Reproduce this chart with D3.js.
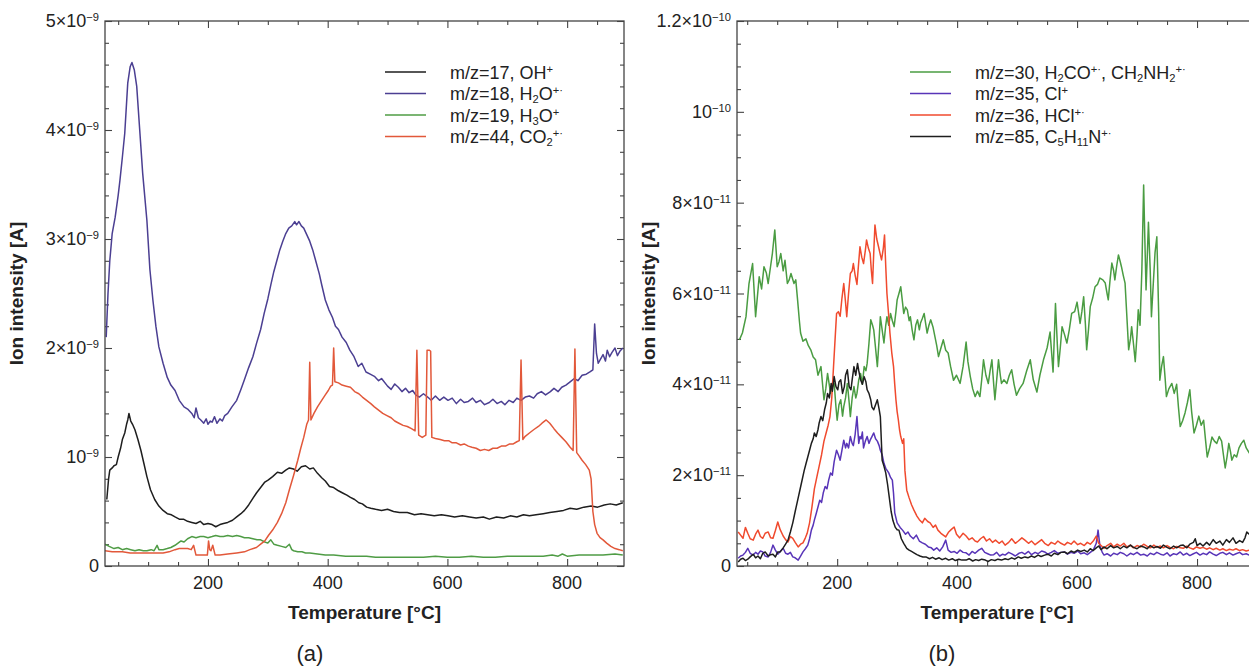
<!DOCTYPE html>
<html>
<head>
<meta charset="utf-8">
<script src="https://cdn.jsdelivr.net/npm/d3@7"></script>
<style>
  body { margin: 0; background: #fff; }
  svg { display: block; font-family: "Liberation Sans", Arial, sans-serif; }
</style>
</head>
<body>
<div id="chart"></div>
<script>
// Ion intensity vs temperature, two panels (a) and (b)
// panel (a) values in units of 1e-9 A, panel (b) in units of 1e-11 A

const tempTicks = [200, 400, 600, 800];
const yTicksA = [0, 1, 2, 3, 4, 5];
const yLabelsA = ["0", "10^−9", "2×10^−9", "3×10^−9", "4×10^−9", "5×10^−9"];
const yTicksB = [0, 2, 4, 6, 8, 10, 12];
const yLabelsB = ["0", "2×10^−11", "4×10^−11", "6×10^−11", "8×10^−11", "10^−10", "1.2×10^−10"];

// m/z=17, OH+
const ohA = [[31,0.61],[34,0.80],[36,0.88],[40,0.90],[43,0.92],[47,0.93],[50,1.00],[54,1.08],[57,1.16],[61,1.22],[64,1.30],[66,1.34],[68,1.40],[71,1.33],[74,1.30],[78,1.25],[83,1.16],[88,1.06],[93,0.94],[98,0.82],[104,0.70],[111,0.61],[118,0.55],[125,0.51],[132,0.48],[139,0.47],[145,0.45],[152,0.43],[159,0.43],[166,0.41],[173,0.40],[180,0.39],[187,0.41],[193,0.38],[200,0.39],[207,0.38],[213,0.36],[220,0.38],[226,0.39],[233,0.40],[241,0.42],[248,0.45],[255,0.48],[261,0.51],[268,0.56],[275,0.62],[281,0.67],[288,0.72],[295,0.77],[301,0.79],[308,0.82],[316,0.86],[323,0.85],[330,0.88],[336,0.90],[343,0.89],[349,0.87],[356,0.91],[363,0.92],[370,0.89],[376,0.90],[383,0.85],[390,0.81],[396,0.78],[403,0.73],[410,0.72],[418,0.69],[425,0.67],[432,0.65],[438,0.63],[445,0.61],[452,0.58],[458,0.57],[465,0.54],[472,0.53],[480,0.52],[490,0.51],[500,0.52],[510,0.50],[520,0.49],[533,0.49],[545,0.47],[556,0.48],[567,0.47],[578,0.46],[590,0.47],[601,0.46],[612,0.45],[625,0.46],[637,0.45],[648,0.44],[660,0.45],[670,0.43],[682,0.45],[694,0.44],[705,0.46],[716,0.45],[727,0.47],[737,0.46],[748,0.47],[760,0.48],[771,0.49],[783,0.50],[794,0.51],[805,0.53],[816,0.52],[828,0.54],[840,0.55],[851,0.54],[862,0.56],[872,0.57],[882,0.56],[893,0.58]];

// m/z=18, H2O+
const h2oA = [[30,2.10],[33,2.50],[36,2.80],[40,3.05],[45,3.20],[50,3.40],[53,3.54],[57,3.75],[61,3.97],[66,4.43],[70,4.58],[73,4.62],[77,4.55],[81,4.40],[86,4.00],[91,3.60],[98,3.17],[103,2.72],[108,2.44],[113,2.20],[118,2.01],[125,1.86],[132,1.73],[138,1.66],[145,1.61],[152,1.52],[160,1.46],[166,1.44],[173,1.40],[177,1.36],[180,1.45],[184,1.36],[188,1.34],[193,1.31],[197,1.35],[200,1.30],[204,1.33],[207,1.32],[211,1.37],[215,1.31],[220,1.35],[224,1.33],[228,1.38],[233,1.40],[240,1.46],[248,1.52],[255,1.62],[261,1.71],[268,1.82],[275,1.92],[281,2.04],[288,2.17],[294,2.32],[300,2.45],[305,2.58],[310,2.70],[315,2.80],[320,2.90],[325,2.98],[330,3.05],[335,3.10],[340,3.12],[345,3.16],[348,3.13],[352,3.16],[356,3.12],[360,3.10],[365,3.04],[370,2.98],[375,2.90],[380,2.80],[386,2.68],[390,2.58],[396,2.44],[402,2.35],[408,2.28],[413,2.20],[418,2.17],[424,2.10],[431,2.05],[437,1.98],[444,1.92],[451,1.83],[457,1.86],[464,1.78],[471,1.76],[478,1.74],[485,1.70],[490,1.72],[500,1.65],[506,1.62],[512,1.67],[518,1.64],[524,1.60],[530,1.63],[536,1.59],[542,1.61],[547,1.57],[553,1.55],[560,1.58],[567,1.55],[573,1.52],[580,1.56],[587,1.52],[594,1.55],[601,1.52],[608,1.54],[615,1.49],[622,1.53],[628,1.50],[635,1.51],[642,1.54],[648,1.50],[655,1.52],[662,1.48],[670,1.50],[676,1.53],[683,1.49],[690,1.51],[696,1.48],[703,1.52],[710,1.50],[716,1.54],[723,1.52],[730,1.55],[737,1.56],[744,1.54],[750,1.58],[757,1.60],[764,1.57],[772,1.60],[778,1.63],[785,1.60],[791,1.64],[798,1.66],[805,1.69],[812,1.72],[818,1.70],[825,1.75],[832,1.76],[838,1.78],[843,1.80],[846,2.22],[849,1.95],[852,1.86],[856,1.90],[860,1.94],[864,1.88],[867,1.98],[871,1.92],[875,1.96],[880,2.00],[884,1.93],[888,1.97],[893,2.00]];

// m/z=19, H3O+
const h3oA = [[28,0.20],[35,0.18],[43,0.16],[50,0.17],[57,0.15],[64,0.16],[71,0.15],[78,0.14],[85,0.15],[92,0.14],[98,0.14],[105,0.15],[110,0.14],[115,0.19],[118,0.15],[125,0.15],[132,0.16],[138,0.17],[145,0.19],[150,0.21],[155,0.23],[160,0.22],[166,0.25],[173,0.27],[180,0.26],[187,0.27],[193,0.27],[200,0.26],[207,0.27],[213,0.28],[220,0.27],[226,0.27],[233,0.28],[241,0.27],[248,0.28],[255,0.27],[261,0.26],[268,0.26],[275,0.25],[282,0.24],[288,0.24],[295,0.22],[300,0.21],[305,0.24],[310,0.20],[316,0.19],[323,0.18],[330,0.17],[336,0.20],[340,0.15],[343,0.14],[350,0.13],[357,0.13],[363,0.12],[370,0.12],[383,0.11],[396,0.10],[410,0.10],[430,0.09],[450,0.09],[465,0.09],[480,0.08],[500,0.08],[520,0.08],[540,0.08],[560,0.08],[580,0.09],[600,0.08],[620,0.08],[640,0.09],[660,0.08],[680,0.08],[700,0.09],[720,0.09],[740,0.09],[760,0.09],[775,0.10],[785,0.09],[792,0.11],[800,0.09],[820,0.10],[840,0.10],[860,0.10],[880,0.11],[893,0.10]];

// m/z=44, CO2+
const co2A = [[28,0.14],[40,0.13],[50,0.13],[57,0.13],[70,0.12],[85,0.12],[100,0.12],[115,0.12],[125,0.12],[135,0.13],[145,0.15],[152,0.16],[160,0.16],[166,0.16],[172,0.15],[176,0.19],[180,0.10],[188,0.10],[195,0.10],[199,0.10],[201,0.23],[203,0.15],[205,0.14],[208,0.19],[212,0.10],[220,0.10],[233,0.11],[248,0.12],[261,0.13],[270,0.15],[281,0.17],[288,0.20],[295,0.23],[301,0.28],[308,0.33],[316,0.40],[323,0.48],[330,0.58],[336,0.70],[343,0.83],[350,0.97],[355,1.08],[360,1.18],[365,1.30],[368,1.34],[370,1.87],[372,1.34],[377,1.40],[383,1.46],[390,1.52],[396,1.57],[401,1.61],[405,1.65],[408,1.66],[410,2.00],[412,1.69],[418,1.68],[424,1.66],[431,1.65],[438,1.64],[445,1.60],[452,1.58],[458,1.55],[465,1.52],[472,1.49],[478,1.46],[485,1.43],[492,1.40],[499,1.38],[506,1.36],[512,1.33],[519,1.31],[526,1.29],[533,1.28],[540,1.26],[546,1.24],[549,1.98],[552,1.20],[558,1.18],[564,1.20],[566,1.98],[570,1.98],[572,1.97],[574,1.18],[580,1.17],[588,1.16],[595,1.15],[602,1.15],[608,1.13],[615,1.13],[622,1.11],[628,1.12],[635,1.10],[641,1.09],[648,1.08],[655,1.06],[662,1.07],[669,1.06],[676,1.08],[683,1.08],[690,1.10],[697,1.10],[704,1.12],[710,1.12],[716,1.14],[720,1.15],[723,1.89],[726,1.16],[730,1.19],[737,1.22],[744,1.25],[752,1.28],[758,1.31],[765,1.34],[771,1.31],[778,1.26],[784,1.22],[791,1.18],[798,1.14],[805,1.09],[810,1.06],[813,1.99],[816,1.04],[820,1.01],[825,0.97],[831,0.93],[837,0.88],[840,0.80],[843,0.50],[846,0.38],[850,0.30],[855,0.26],[860,0.24],[866,0.21],[873,0.18],[880,0.16],[887,0.15],[893,0.14]];

// m/z=30, H2CO+, CH2NH2+
const ch2nh2B = [[37,4.98],[42,5.13],[48,5.49],[53,6.22],[59,6.66],[64,5.49],[70,6.37],[74,6.10],[78,6.59],[82,6.45],[85,6.22],[89,6.60],[92,6.88],[96,7.40],[100,6.59],[103,6.70],[106,6.88],[110,6.50],[113,6.73],[117,6.22],[120,6.30],[123,6.44],[128,6.22],[131,6.30],[134,5.86],[137,5.40],[139,5.13],[143,4.95],[148,5.00],[152,4.85],[156,4.76],[160,4.60],[164,4.54],[168,4.20],[173,4.39],[178,3.66],[181,3.90],[184,4.24],[189,3.80],[192,3.95],[195,4.02],[198,3.50],[200,3.21],[203,3.55],[206,3.66],[209,3.30],[211,3.51],[214,3.70],[217,4.02],[220,3.60],[222,3.29],[225,3.70],[228,3.95],[231,3.70],[233,3.80],[236,4.10],[239,4.24],[242,4.00],[245,4.39],[248,4.30],[250,4.46],[253,4.90],[256,5.42],[259,5.30],[261,5.20],[264,4.80],[267,4.39],[270,5.00],[272,5.49],[275,5.20],[278,4.91],[281,5.30],[283,5.49],[286,5.30],[289,5.56],[292,5.40],[295,5.27],[298,5.60],[300,5.86],[303,6.00],[306,6.15],[309,5.80],[311,5.56],[314,5.70],[317,5.64],[320,5.40],[322,5.49],[325,5.20],[328,4.98],[331,5.30],[334,5.42],[337,5.20],[339,5.35],[342,5.45],[345,5.56],[348,5.30],[350,5.13],[353,5.30],[356,5.42],[360,5.25],[363,5.05],[366,4.85],[369,4.61],[373,4.80],[377,4.98],[381,4.75],[385,4.69],[389,4.40],[394,4.09],[399,4.20],[405,4.02],[410,4.40],[415,4.93],[418,4.50],[422,4.17],[426,3.90],[430,3.73],[434,3.85],[438,3.73],[441,4.10],[444,4.54],[448,4.20],[452,4.02],[455,4.30],[458,4.54],[461,4.00],[463,3.66],[466,4.10],[469,4.54],[472,4.20],[474,4.02],[478,4.10],[483,4.02],[487,4.20],[491,4.32],[495,4.00],[499,3.76],[504,3.90],[510,4.02],[516,4.30],[522,4.54],[527,4.10],[533,3.83],[538,4.20],[544,4.54],[550,4.80],[555,5.15],[560,4.27],[564,5.78],[567,4.90],[569,4.39],[572,4.80],[575,5.27],[579,5.10],[583,4.91],[587,5.20],[591,5.56],[596,5.60],[600,5.81],[605,5.34],[608,5.60],[611,5.93],[614,5.30],[616,4.76],[619,5.20],[622,5.71],[626,5.90],[630,6.15],[634,6.20],[638,6.34],[643,6.30],[647,6.23],[650,6.00],[652,5.86],[655,6.30],[658,6.67],[661,6.50],[663,6.30],[666,6.60],[669,6.85],[672,6.70],[674,6.59],[677,6.40],[680,6.23],[683,5.50],[686,4.76],[689,5.00],[691,5.27],[694,4.90],[697,4.50],[700,5.10],[702,5.64],[705,5.30],[708,6.50],[711,8.39],[713,7.20],[715,6.08],[717,6.80],[719,7.57],[722,6.50],[724,5.49],[727,6.20],[730,6.90],[733,7.25],[736,5.60],[738,4.09],[741,4.40],[744,4.61],[747,4.10],[749,3.73],[753,3.90],[758,4.02],[762,3.80],[766,4.00],[769,3.50],[772,3.07],[776,3.20],[780,3.37],[784,3.60],[788,3.88],[791,3.40],[795,2.93],[799,3.10],[803,3.30],[807,3.10],[811,3.21],[814,2.80],[817,2.40],[821,2.60],[825,2.84],[829,2.75],[833,2.70],[837,2.85],[841,2.75],[844,2.45],[847,2.16],[850,2.40],[853,2.70],[856,2.50],[858,2.33],[862,2.45],[866,2.40],[870,2.60],[874,2.70],[878,2.77],[882,2.60],[887,2.49],[892,2.45]];

// m/z=35, Cl+
const clB = [[35,0.17],[39,0.22],[43,0.24],[47,0.30],[51,0.39],[55,0.28],[60,0.24],[64,0.30],[68,0.26],[72,0.33],[76,0.31],[80,0.22],[85,0.20],[89,0.30],[93,0.46],[97,0.35],[101,0.26],[105,0.32],[110,0.39],[114,0.28],[118,0.26],[122,0.30],[126,0.20],[130,0.18],[135,0.13],[139,0.22],[143,0.31],[147,0.38],[151,0.46],[154,0.60],[157,0.79],[160,0.90],[162,1.01],[165,1.15],[168,1.30],[171,1.45],[174,1.40],[177,1.62],[180,1.75],[183,1.70],[186,1.90],[189,2.05],[192,2.00],[195,2.30],[199,2.55],[202,2.45],[205,2.33],[208,2.55],[211,2.77],[214,2.60],[216,2.70],[219,2.60],[222,2.85],[225,2.70],[227,2.65],[230,2.90],[233,3.29],[236,2.70],[238,2.85],[240,2.80],[242,2.95],[244,2.60],[247,2.75],[250,2.85],[253,2.70],[255,2.77],[258,2.85],[261,2.93],[264,2.80],[267,2.75],[270,2.65],[272,2.55],[275,2.45],[278,2.26],[281,2.15],[283,2.11],[286,2.05],[289,1.95],[292,1.89],[294,1.60],[296,1.17],[300,0.95],[305,0.85],[309,0.79],[314,0.70],[318,0.75],[322,0.66],[327,0.60],[332,0.68],[337,0.55],[342,0.51],[347,0.48],[352,0.42],[357,0.40],[361,0.35],[366,0.40],[371,0.33],[376,0.42],[381,0.57],[385,0.35],[390,0.30],[395,0.32],[400,0.28],[405,0.35],[410,0.30],[415,0.29],[420,0.24],[425,0.32],[430,0.28],[436,0.35],[441,0.39],[446,0.30],[451,0.27],[456,0.24],[461,0.25],[466,0.30],[471,0.22],[476,0.26],[480,0.24],[486,0.30],[492,0.26],[497,0.22],[503,0.28],[508,0.30],[513,0.26],[519,0.32],[524,0.25],[530,0.30],[535,0.27],[541,0.33],[546,0.31],[551,0.26],[557,0.30],[562,0.34],[568,0.28],[573,0.30],[579,0.31],[584,0.26],[590,0.30],[595,0.28],[601,0.33],[606,0.27],[612,0.29],[617,0.25],[622,0.30],[627,0.35],[632,0.50],[635,0.79],[638,0.45],[642,0.30],[645,0.24],[650,0.27],[656,0.22],[661,0.28],[667,0.25],[672,0.30],[678,0.27],[683,0.22],[689,0.28],[694,0.25],[700,0.30],[706,0.24],[711,0.26],[717,0.22],[722,0.28],[728,0.25],[733,0.30],[739,0.26],[744,0.24],[750,0.29],[755,0.22],[761,0.27],[766,0.25],[772,0.31],[777,0.24],[783,0.28],[788,0.23],[794,0.27],[799,0.30],[805,0.24],[810,0.28],[816,0.25],[821,0.31],[827,0.26],[832,0.23],[838,0.28],[843,0.30],[849,0.25],[854,0.29],[860,0.24],[865,0.27],[871,0.30],[876,0.25],[882,0.27],[887,0.24],[892,0.26]];

// m/z=36, HCl+
const hclB = [[35,0.75],[39,0.68],[43,0.61],[47,0.85],[51,0.72],[55,0.60],[60,0.57],[64,0.70],[68,0.79],[72,0.65],[76,0.61],[80,0.72],[85,0.75],[89,0.62],[93,0.61],[97,0.78],[101,0.97],[105,0.80],[110,0.66],[114,0.58],[118,0.53],[122,0.65],[126,0.61],[130,0.52],[135,0.42],[139,0.48],[143,0.51],[147,0.62],[150,0.72],[154,0.95],[158,1.30],[162,1.70],[166,1.95],[170,2.20],[174,2.45],[178,2.75],[182,2.95],[185,3.10],[188,3.29],[191,3.70],[194,4.40],[197,5.10],[199,5.56],[202,5.60],[205,5.50],[208,5.90],[211,6.22],[214,5.80],[216,5.49],[219,6.00],[222,6.44],[225,6.50],[227,6.66],[230,6.40],[233,6.20],[236,6.70],[238,7.03],[241,6.80],[244,6.66],[247,6.95],[249,7.18],[252,7.00],[255,6.88],[257,6.50],[259,6.22],[261,6.90],[263,7.51],[266,7.20],[269,7.03],[272,6.85],[274,6.74],[277,7.00],[279,7.29],[281,6.60],[283,6.00],[286,5.50],[288,5.13],[291,4.70],[294,4.39],[296,4.00],[298,3.66],[300,3.40],[302,3.22],[304,3.00],[306,2.85],[309,2.70],[311,2.80],[313,2.10],[316,1.67],[320,1.50],[324,1.35],[328,1.23],[333,1.10],[337,1.02],[342,0.95],[346,1.05],[351,0.98],[355,0.95],[360,0.85],[364,0.90],[368,0.79],[373,0.72],[377,0.68],[381,0.64],[386,0.75],[390,0.80],[395,0.86],[399,0.70],[404,0.62],[410,0.72],[415,0.66],[420,0.58],[425,0.62],[430,0.55],[434,0.53],[439,0.60],[444,0.65],[449,0.55],[454,0.60],[459,0.52],[464,0.57],[470,0.50],[475,0.55],[480,0.46],[486,0.52],[491,0.60],[497,0.50],[502,0.55],[508,0.62],[513,0.57],[519,0.50],[524,0.55],[530,0.47],[535,0.52],[541,0.58],[546,0.50],[552,0.45],[557,0.52],[563,0.48],[568,0.55],[573,0.50],[579,0.46],[584,0.52],[590,0.48],[595,0.55],[601,0.47],[606,0.50],[612,0.45],[617,0.52],[622,0.48],[627,0.55],[632,0.66],[636,0.50],[640,0.45],[645,0.39],[650,0.45],[656,0.50],[661,0.42],[667,0.48],[672,0.44],[678,0.50],[683,0.42],[689,0.46],[694,0.40],[700,0.45],[706,0.42],[711,0.48],[717,0.43],[722,0.40],[728,0.46],[733,0.41],[739,0.44],[744,0.40],[750,0.45],[755,0.41],[761,0.38],[766,0.43],[772,0.40],[777,0.39],[783,0.44],[788,0.40],[794,0.37],[799,0.42],[805,0.39],[810,0.41],[816,0.37],[821,0.40],[827,0.36],[832,0.39],[838,0.35],[843,0.38],[849,0.34],[854,0.37],[860,0.35],[865,0.38],[871,0.34],[876,0.36],[882,0.33],[887,0.35],[892,0.34]];

// m/z=85, C5H11N+
const c5h11nB = [[35,0.09],[39,0.15],[43,0.17],[47,0.12],[51,0.15],[55,0.20],[60,0.26],[64,0.18],[68,0.22],[72,0.16],[76,0.28],[80,0.31],[85,0.22],[89,0.25],[93,0.26],[97,0.20],[101,0.31],[105,0.31],[110,0.40],[114,0.48],[118,0.57],[122,0.75],[126,0.95],[130,1.20],[135,1.50],[140,1.80],[145,2.10],[148,2.25],[151,2.40],[154,2.55],[157,2.70],[160,2.80],[162,2.93],[165,2.85],[168,3.00],[170,3.15],[173,3.29],[176,3.20],[179,3.44],[182,3.60],[184,3.80],[187,3.70],[190,4.02],[192,3.85],[195,4.17],[198,3.95],[201,3.88],[203,4.05],[206,4.10],[209,3.80],[212,3.95],[214,4.20],[217,4.32],[220,3.95],[223,3.88],[225,4.10],[228,4.39],[231,4.20],[234,4.46],[236,4.30],[239,4.10],[242,4.00],[245,4.17],[248,4.05],[250,3.88],[253,3.80],[256,3.66],[258,3.50],[261,3.44],[264,3.55],[267,3.66],[270,3.45],[272,3.29],[275,2.33],[278,2.20],[281,2.05],[284,1.80],[287,1.50],[290,1.20],[293,1.00],[297,0.85],[300,0.80],[303,0.79],[307,0.60],[311,0.50],[316,0.39],[320,0.35],[324,0.32],[328,0.29],[333,0.25],[338,0.22],[343,0.20],[348,0.20],[354,0.16],[359,0.19],[364,0.15],[370,0.18],[375,0.14],[381,0.17],[386,0.13],[392,0.16],[397,0.12],[403,0.15],[408,0.13],[415,0.13],[420,0.16],[426,0.11],[431,0.14],[436,0.12],[441,0.15],[447,0.13],[452,0.10],[457,0.14],[463,0.12],[468,0.15],[474,0.13],[480,0.16],[485,0.14],[491,0.18],[496,0.15],[502,0.20],[507,0.17],[513,0.20],[518,0.18],[524,0.22],[529,0.19],[535,0.24],[540,0.21],[546,0.24],[551,0.26],[557,0.22],[562,0.28],[568,0.25],[573,0.30],[579,0.31],[584,0.27],[590,0.33],[595,0.30],[601,0.35],[606,0.32],[612,0.35],[617,0.31],[622,0.38],[627,0.34],[632,0.40],[636,0.44],[640,0.36],[645,0.42],[650,0.38],[656,0.45],[661,0.40],[667,0.43],[672,0.38],[678,0.44],[683,0.40],[689,0.46],[694,0.41],[700,0.38],[706,0.44],[711,0.42],[717,0.38],[722,0.45],[728,0.40],[733,0.43],[739,0.39],[744,0.46],[750,0.41],[755,0.38],[761,0.44],[766,0.40],[772,0.45],[777,0.46],[783,0.40],[788,0.48],[794,0.52],[797,0.60],[800,0.45],[805,0.50],[810,0.44],[816,0.52],[821,0.46],[827,0.58],[832,0.50],[838,0.55],[843,0.46],[849,0.58],[854,0.52],[860,0.62],[865,0.50],[871,0.56],[876,0.52],[880,0.62],[883,0.75],[887,0.70],[892,0.72]];

// legend labels: [text, "" | "sub" | "sup"]
const legendLabelsA = [
  [["m/z=17, OH"], ["+", "sup"]],
  [["m/z=18, H"], ["2", "sub"], ["O"], ["+·", "sup"]],
  [["m/z=19, H"], ["3", "sub"], ["O"], ["+", "sup"]],
  [["m/z=44, CO"], ["2", "sub"], ["+·", "sup"]]
];
const legendLabelsB = [
  [["m/z=30, H"], ["2", "sub"], ["CO"], ["+·", "sup"], [", CH"], ["2", "sub"], ["NH"], ["2", "sub"], ["+·", "sup"]],
  [["m/z=35, Cl"], ["+", "sup"]],
  [["m/z=36, HCl"], ["+·", "sup"]],
  [["m/z=85, C"], ["5", "sub"], ["H"], ["11", "sub"], ["N"], ["+·", "sup"]]
];

const W = 1249, H = 668;
const svg = d3.select("#chart").append("svg").attr("width", W).attr("height", H);

function richText(sel, parts, fs) {
  let off = 0;
  parts.forEach(([t, mode]) => {
    const target = mode === "sup" ? -0.33 * fs : mode === "sub" ? 0.18 * fs : 0;
    const ts = sel.append("tspan").text(t).attr("dy", target - off);
    if (mode) ts.attr("font-size", fs * 0.62);
    off = target;
  });
}

function tickParts(label) {
  const [m, e] = label.split("^");
  return e ? [[m], [e, "sup"]] : [[m]];
}

function drawPanel(cfg) {
  const { id, left, right, top, bottom, xDomain, yDomain, yTicks, yLabels, yMinor, series, legend, legendX, caption } = cfg;
  const x = d3.scaleLinear().domain(xDomain).range([left, right]);
  const y = d3.scaleLinear().domain(yDomain).range([bottom, top]);
  const g = svg.append("g");

  g.append("clipPath").attr("id", "clip-" + id)
    .append("rect").attr("x", left).attr("y", top).attr("width", right - left).attr("height", bottom - top);

  const xMinor = d3.range(50, xDomain[1] + 1, 50).filter(v => v % 200 !== 0);
  const yMin = d3.range(yDomain[0], yDomain[1] + 1e-9, yMinor).filter(v => !yTicks.some(t => Math.abs(t - v) < 1e-6));

  // tick marks on all four sides, pointing inwards
  const tickColor = "#444";
  const axes = [
    [d3.axisBottom(x).tickValues(tempTicks), bottom, "x"],
    [d3.axisBottom(x).tickValues(xMinor), bottom, "xm"],
    [d3.axisTop(x).tickValues(tempTicks), top, "x"],
    [d3.axisTop(x).tickValues(xMinor), top, "xm"],
    [d3.axisLeft(y).tickValues(yTicks), left, "y"],
    [d3.axisLeft(y).tickValues(yMin), left, "ym"],
    [d3.axisRight(y).tickValues(yTicks), right, "y"],
    [d3.axisRight(y).tickValues(yMin), right, "ym"]
  ];
  axes.forEach(([ax, pos, kind]) => {
    const major = kind === "x" || kind === "y";
    ax.tickSize(major ? -7 : -4).tickFormat("");
    const a = g.append("g")
      .attr("transform", kind[0] === "x" ? `translate(0,${pos})` : `translate(${pos},0)`)
      .call(ax);
    a.select(".domain").remove();
    a.selectAll("line").attr("stroke", tickColor).attr("stroke-width", 1.1);
  });

  // series lines
  const line = d3.line().x(d => x(d[0])).y(d => y(d[1]));
  series.forEach(s => {
    g.append("path")
      .datum(s.data)
      .attr("clip-path", `url(#clip-${id})`)
      .attr("fill", "none")
      .attr("stroke", s.color)
      .attr("stroke-width", 1.5)
      .attr("stroke-linejoin", "round")
      .attr("d", line);
  });

  // frame
  g.append("rect")
    .attr("x", left).attr("y", top)
    .attr("width", right - left).attr("height", bottom - top)
    .attr("fill", "none").attr("stroke", "#444").attr("stroke-width", 1.3);

  // x tick labels
  tempTicks.forEach(t => {
    g.append("text")
      .attr("x", x(t)).attr("y", bottom + 23)
      .attr("text-anchor", "middle")
      .attr("font-size", 18).attr("fill", "#222")
      .text(t);
  });

  // y tick labels
  yTicks.forEach((t, i) => {
    const txt = g.append("text")
      .attr("x", left - 6).attr("y", y(t) + 6)
      .attr("text-anchor", "end")
      .attr("font-size", 18).attr("fill", "#222");
    richText(txt, tickParts(yLabels[i]), 18);
  });

  // axis titles
  g.append("text")
    .attr("x", (left + right) / 2).attr("y", 619)
    .attr("text-anchor", "middle")
    .attr("font-size", 19).attr("font-weight", "bold").attr("fill", "#222")
    .text("Temperature [°C]");

  g.append("text")
    .attr("transform", `translate(${left - 82},${(top + bottom) / 2}) rotate(-90)`)
    .attr("text-anchor", "middle")
    .attr("font-size", 19).attr("font-weight", "bold").attr("fill", "#222")
    .text("Ion intensity [A]");

  g.append("text")
    .attr("x", left + 205).attr("y", 661)
    .attr("text-anchor", "middle")
    .attr("font-size", 22).attr("fill", "#222")
    .text(caption);

  // legend
  const rowY = [72, 93.5, 115, 136.5];
  legend.forEach((parts, i) => {
    const ly = rowY[i];
    g.append("line")
      .attr("x1", legendX).attr("x2", legendX + 41)
      .attr("y1", ly).attr("y2", ly)
      .attr("stroke", series[i].color).attr("stroke-width", 1.5);
    const txt = g.append("text")
      .attr("x", legendX + 65).attr("y", ly + 6.5)
      .attr("font-size", 18).attr("fill", "#222");
    richText(txt, parts, 18);
  });
}

drawPanel({
  id: "a", left: 105, right: 624, top: 21, bottom: 566,
  xDomain: [28, 895], yDomain: [0, 5],
  yTicks: yTicksA, yLabels: yLabelsA, yMinor: 0.2,
  series: [
    { data: ohA, color: "#1e1e1e" },
    { data: h2oA, color: "#4b3f92" },
    { data: h3oA, color: "#4f9c45" },
    { data: co2A, color: "#e2583a" }
  ],
  legend: legendLabelsA, legendX: 385, caption: "(a)"
});

drawPanel({
  id: "b", left: 737, right: 1257, top: 21, bottom: 566,
  xDomain: [33, 900], yDomain: [0, 12],
  yTicks: yTicksB, yLabels: yLabelsB, yMinor: 0.5,
  series: [
    { data: ch2nh2B, color: "#4a9c42" },
    { data: clB, color: "#5834b8" },
    { data: hclB, color: "#f04a2e" },
    { data: c5h11nB, color: "#1e1e1e" }
  ],
  legend: legendLabelsB, legendX: 910, caption: "(b)"
});
</script>
</body>
</html>
